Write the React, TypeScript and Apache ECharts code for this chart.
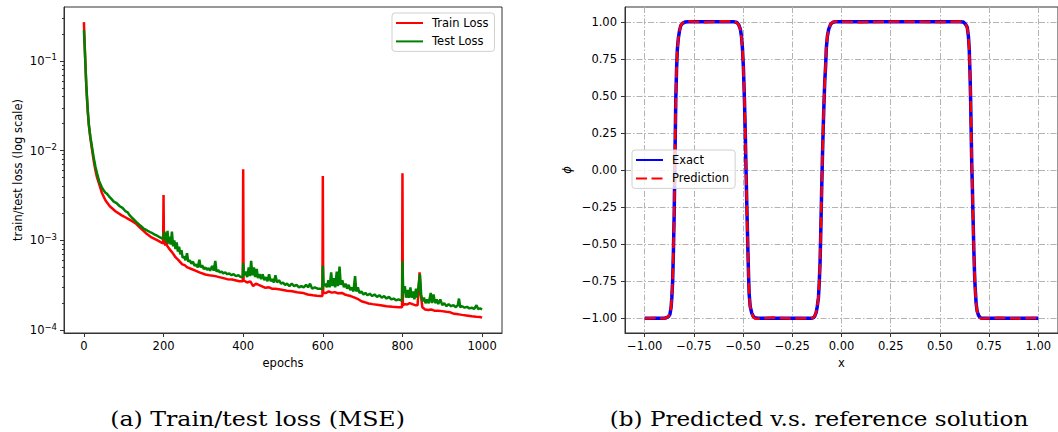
import React, { useEffect, useRef } from "react";
import * as echarts from "echarts";

// ---------- Data: (a) train / test loss, [epoch, loss] ----------
const trainLossPoints: [number, number][] = [
  [0, 0.27], [2, 0.15], [4, 0.085], [6, 0.052], [8, 0.036], [10, 0.026], [12.5, 0.019], [16, 0.014],
  [21, 0.0098], [25, 0.0075], [29, 0.006], [33, 0.005], [38, 0.0043], [45, 0.0034], [54, 0.0028],
  [65, 0.0024], [80, 0.0021], [95, 0.0019], [105, 0.0018], [110, 0.00175], [120, 0.00165],
  [130, 0.00155], [140, 0.0014], [155, 0.00121], [170, 0.00108], [185, 0.001], [196, 0.00094],
  [199, 0.00093], [200, 0.0032], [201, 0.00095], [205, 0.00088], [207, 0.0012], [209, 0.00087],
  [213, 0.00082], [220, 0.00075], [225, 0.0007], [230, 0.00065], [238, 0.0006], [247, 0.00054],
  [253, 0.00053], [260, 0.0005], [270, 0.00048], [280, 0.00046], [290, 0.00044], [305, 0.000417],
  [315, 0.00041], [330, 0.0004], [340, 0.00039], [350, 0.00038], [360, 0.00037], [372, 0.000366],
  [380, 0.00036], [390, 0.00035], [399, 0.00035], [400, 0.0062], [401, 0.00036], [405, 0.00035],
  [410, 0.00034], [418, 0.00035], [425, 0.00031], [432, 0.00033], [439, 0.00032], [446, 0.00031],
  [456, 0.000296], [465, 0.0003], [472, 0.00029], [480, 0.00029], [490, 0.000285], [500, 0.00028],
  [510, 0.000275], [523, 0.000272], [535, 0.000265], [550, 0.00026], [562, 0.00025], [575, 0.000245],
  [585, 0.000242], [594, 0.00024], [599, 0.00024], [600, 0.0052], [601, 0.00026], [608, 0.00026],
  [615, 0.00027], [622, 0.000262], [630, 0.000265], [638, 0.000258], [648, 0.00026], [655, 0.00025],
  [662, 0.000245], [670, 0.00024], [680, 0.00023], [690, 0.00022], [697, 0.00021], [705, 0.000205],
  [715, 0.000198], [725, 0.000195], [732, 0.000193], [745, 0.00019], [760, 0.000185], [775, 0.000182],
  [790, 0.00018], [799, 0.00018], [800, 0.0056], [801, 0.00019], [806, 0.000195], [812, 0.000193],
  [818, 0.0002], [825, 0.000195], [832, 0.00019], [838, 0.00019], [841, 0.0003], [843, 0.00044],
  [846, 0.00025], [850, 0.00018], [857, 0.00017], [865, 0.000168], [872, 0.00017], [880, 0.000165],
  [890, 0.000165], [899, 0.000163], [910, 0.00016], [920, 0.000158], [930, 0.000152], [941, 0.00015],
  [950, 0.000148], [960, 0.000146], [974, 0.000143], [985, 0.000141], [995, 0.00014], [1000, 0.000138],
];
const testLossPoints: [number, number][] = [
  [0, 0.22], [2, 0.14], [4, 0.088], [6, 0.054], [8, 0.038], [10, 0.027], [12.5, 0.0195], [16, 0.0145],
  [21, 0.0105], [25, 0.0082], [29, 0.0066], [33, 0.0056], [38, 0.0046], [42, 0.0042], [45, 0.0039],
  [50, 0.0036], [54, 0.0034], [58, 0.0033], [63, 0.0031], [69, 0.0029], [75, 0.0027], [82, 0.0026],
  [90, 0.0024], [97, 0.0023], [105, 0.0021], [110, 0.00205], [115, 0.0019], [120, 0.0018],
  [125, 0.00172], [132, 0.0016], [139, 0.0015], [145, 0.00142], [150, 0.00135], [155, 0.00132],
  [160, 0.00128], [166, 0.00124], [171, 0.00121], [178, 0.00116], [185, 0.00112], [191, 0.00108],
  [197, 0.00105], [200, 0.00108], [202, 0.00125], [204, 0.001], [206, 0.00122], [208, 0.00095],
  [210, 0.00128], [212, 0.00092], [215, 0.0011], [218, 0.0009], [221, 0.00125], [224, 0.00086],
  [227, 0.001], [230, 0.0008], [233, 0.00095], [236, 0.00075], [239, 0.00085], [242, 0.0007],
  [245, 0.00078], [248, 0.00064], [252, 0.00066], [255, 0.0006], [259, 0.00072], [262, 0.00058],
  [266, 0.0006], [270, 0.00055], [274, 0.00058], [278, 0.00052], [282, 0.00054], [286, 0.0005],
  [290, 0.00061], [293, 0.0005], [297, 0.00053], [301, 0.00048], [305, 0.0005], [309, 0.00047],
  [313, 0.00049], [317, 0.00046], [322, 0.00052], [326, 0.00046], [330, 0.00059], [333, 0.00045],
  [337, 0.00047], [341, 0.00044], [346, 0.00045], [350, 0.00043], [355, 0.00044], [360, 0.00042],
  [365, 0.00043], [370, 0.00041], [376, 0.00042], [382, 0.0004], [388, 0.00041], [394, 0.00039],
  [399, 0.00039], [400, 0.00056], [402, 0.00041], [406, 0.00045], [410, 0.00039], [414, 0.0005],
  [417, 0.0004], [420, 0.00059], [423, 0.00041], [427, 0.0005], [430, 0.00039], [434, 0.00048],
  [437, 0.00038], [441, 0.00042], [445, 0.00037], [449, 0.00042], [453, 0.00036], [457, 0.00039],
  [461, 0.00035], [465, 0.00042], [469, 0.00035], [473, 0.00037], [477, 0.00034], [481, 0.00041],
  [485, 0.00034], [490, 0.00036], [495, 0.00033], [500, 0.00034], [505, 0.00032], [510, 0.00033],
  [516, 0.00031], [522, 0.00033], [528, 0.00031], [534, 0.00032], [540, 0.0003], [546, 0.00031],
  [552, 0.0003], [558, 0.00032], [563, 0.0003], [568, 0.00033], [573, 0.00029], [580, 0.0003],
  [587, 0.00029], [594, 0.00029], [599, 0.000285], [600, 0.00052], [602, 0.00031], [606, 0.00033],
  [610, 0.0003], [614, 0.00036], [617, 0.0003], [621, 0.00044], [624, 0.00031], [628, 0.00038],
  [631, 0.0003], [635, 0.00045], [638, 0.00031], [642, 0.00051], [645, 0.00032], [649, 0.00036],
  [653, 0.0003], [657, 0.00033], [661, 0.00029], [665, 0.00032], [669, 0.00028], [673, 0.0003],
  [677, 0.00027], [681, 0.0004], [684, 0.00027], [688, 0.0003], [692, 0.00026], [697, 0.00027],
  [702, 0.00025], [707, 0.00026], [712, 0.000245], [718, 0.000255], [724, 0.00024], [730, 0.00025],
  [736, 0.000235], [742, 0.000245], [748, 0.00023], [754, 0.00024], [760, 0.000225], [766, 0.000235],
  [772, 0.00022], [778, 0.000225], [784, 0.000215], [790, 0.00022], [796, 0.000215], [799, 0.000215],
  [800, 0.00059], [802, 0.00026], [806, 0.00031], [809, 0.00023], [813, 0.00028], [816, 0.00023],
  [820, 0.0003], [823, 0.00023], [827, 0.00027], [830, 0.00022], [834, 0.00029], [837, 0.00023],
  [841, 0.00033], [844, 0.00042], [847, 0.00025], [850, 0.00021], [854, 0.00023], [858, 0.0002],
  [862, 0.00022], [866, 0.0002], [871, 0.00026], [874, 0.0002], [878, 0.00025], [882, 0.0002],
  [886, 0.00022], [890, 0.000195], [895, 0.00022], [900, 0.00019], [905, 0.0002], [910, 0.000185],
  [916, 0.000195], [922, 0.000185], [928, 0.00019], [934, 0.00018], [939, 0.00019], [942, 0.000225],
  [945, 0.00018], [950, 0.000185], [956, 0.000178], [962, 0.000182], [968, 0.000175], [974, 0.000178],
  [980, 0.000172], [986, 0.00019], [990, 0.000172], [995, 0.000175], [1000, 0.00017],
];
const epochTicks = [0, 200, 400, 600, 800, 1000];
const lossMajorTicks = [1e-4, 1e-3, 1e-2, 1e-1];
const lossMinorTicks = [
  2e-4, 3e-4, 4e-4, 5e-4, 6e-4, 7e-4, 8e-4, 9e-4,
  2e-3, 3e-3, 4e-3, 5e-3, 6e-3, 7e-3, 8e-3, 9e-3,
  2e-2, 3e-2, 4e-2, 5e-2, 6e-2, 7e-2, 8e-2, 9e-2,
  2e-1, 3e-1,
];

// ---------- Data: (b) exact vs prediction ----------
const phiX = [
  -1.0, -0.95, -0.9, -0.89, -0.88, -0.872, -0.866, -0.862, -0.858, -0.854,
  -0.85, -0.846, -0.842, -0.838, -0.834, -0.829, -0.823, -0.817, -0.808, -0.795,
  -0.78, -0.7, -0.6, -0.545, -0.531, -0.522, -0.514, -0.508, -0.503, -0.498,
  -0.493, -0.489, -0.485, -0.481, -0.476, -0.472, -0.469, -0.464, -0.456, -0.448,
  -0.44, -0.425, -0.35, -0.25, -0.15, -0.145, -0.137, -0.129, -0.123, -0.117,
  -0.113, -0.109, -0.105, -0.101, -0.097, -0.093, -0.089, -0.085, -0.08, -0.0775,
  -0.072, -0.065, -0.055, -0.044, -0.03, 0.1, 0.3, 0.5, 0.6, 0.619,
  0.63, 0.639, 0.645, 0.649, 0.653, 0.656, 0.659, 0.662, 0.665, 0.668,
  0.672, 0.676, 0.679, 0.684, 0.689, 0.696, 0.703, 0.711, 0.8, 0.9,
  1.0,
];
const exactPhi = [
  -1, -1, -1, -0.997, -0.99, -0.975, -0.93, -0.86, -0.75, -0.55,
  -0.29, 0.1, 0.47, 0.68, 0.815, 0.89, 0.94, 0.973, 0.99, 0.998,
  1, 1, 1, 1, 0.995, 0.98, 0.951, 0.9, 0.815, 0.68,
  0.47, 0.26, 0.0, -0.24, -0.52, -0.72, -0.84, -0.92, -0.965, -0.988,
  -0.997, -1, -1, -1, -1, -0.998, -0.99, -0.963, -0.92, -0.86,
  -0.76, -0.63, -0.4, -0.15, 0.08, 0.28, 0.45, 0.6, 0.72, 0.815,
  0.9, 0.951, 0.985, 0.997, 1, 1, 1, 1, 1, 0.998,
  0.985, 0.963, 0.9, 0.815, 0.65, 0.48, 0.25, 0.03, -0.12, -0.3,
  -0.52, -0.7, -0.79, -0.9, -0.951, -0.98, -0.994, -1, -1, -1,
  -1,
];
const predPhi = [
  -1.002, -0.998, -1.003, -0.996, -0.988, -0.972, -0.925, -0.855, -0.745, -0.545,
  -0.285, 0.105, 0.472, 0.682, 0.812, 0.888, 0.942, 0.975, 0.992, 1.003,
  1.004, 0.997, 1.003, 1.001, 0.993, 0.978, 0.948, 0.897, 0.812, 0.676,
  0.466, 0.255, -0.004, -0.245, -0.524, -0.722, -0.842, -0.922, -0.968, -0.992,
  -1.003, -1.004, -0.996, -1.003, -0.999, -0.996, -0.987, -0.96, -0.917, -0.857,
  -0.757, -0.626, -0.396, -0.146, 0.084, 0.284, 0.453, 0.603, 0.722, 0.816,
  0.902, 0.953, 0.987, 0.999, 1.002, 0.997, 1.003, 0.998, 1.002, 0.996,
  0.983, 0.96, 0.897, 0.812, 0.646, 0.476, 0.246, 0.026, -0.124, -0.304,
  -0.523, -0.702, -0.792, -0.902, -0.954, -0.984, -0.998, -1.003, -0.997, -1.002,
  -0.999,
];
const phiTicks = [-1, -0.75, -0.5, -0.25, 0, 0.25, 0.5, 0.75, 1];

const captionA = "(a) Train/test loss (MSE)";
const captionB = "(b) Predicted v.s. reference solution";

const FONT = "DejaVu Sans";
const TXT = "#000";
const SPINE = "#333";

const fmtSigned = (v: number) => {
  const r = Math.round(v * 100) / 100;
  const s = Math.abs(r).toFixed(2);
  return r < 0 ? "\u2212" + s : s;
};

const zip = (a: number[], b: number[]) => a.map((v, i) => [v, b[i]]);

export default function App() {
  const ref = useRef<HTMLDivElement>(null);
  useEffect(() => {
    if (!ref.current) return;
    const chart = echarts.init(ref.current, null, { renderer: "svg" });
    const axisLine = { show: true, onZero: false, lineStyle: { color: SPINE, width: 1 } };
    const labelBase = { color: TXT, fontFamily: FONT, fontSize: 11.5 };
    const dashDot = { color: "#b3b3b3", width: 1, type: [6, 2, 1.5, 2] };
    const legendBase = {
      orient: "vertical",
      itemWidth: 27,
      itemHeight: 12,
      itemGap: 6.4,
      padding: [4, 6, 4, 3],
      backgroundColor: "rgba(255,255,255,0.8)",
      borderColor: "#d0d0d0",
      borderWidth: 1,
      borderRadius: 3,
      itemStyle: { opacity: 0 },
      textStyle: { ...labelBase, padding: [0, 0, 0, 4] },
    };
    chart.setOption({
      animation: false,
      backgroundColor: "#fff",
      grid: [
        { left: 64, top: 7, width: 438, height: 326, show: true, borderColor: SPINE, borderWidth: 1, backgroundColor: "transparent" },
        { left: 625, top: 7, width: 437.6, height: 326, show: true, borderColor: SPINE, borderWidth: 1, backgroundColor: "transparent" },
      ],
      legend: [
        { ...legendBase, left: 392, top: 13, data: ["Train Loss", "Test Loss"] },
        { ...legendBase, left: 632, top: 150, data: ["Exact", "Prediction"] },
      ],
      xAxis: [
        {
          gridIndex: 0,
          type: "value",
          min: -50,
          max: 1050,
          name: "epochs",
          nameLocation: "middle",
          nameGap: 24,
          nameTextStyle: labelBase,
          axisLine,
          axisTick: { show: true, length: 4, customValues: epochTicks, lineStyle: { color: SPINE } },
          axisLabel: { ...labelBase, margin: 7, customValues: epochTicks, formatter: (v: number) => String(v) },
          splitLine: { show: false },
        },
        {
          gridIndex: 1,
          type: "value",
          min: -1.1,
          max: 1.1,
          name: "x",
          nameLocation: "middle",
          nameGap: 24,
          nameTextStyle: labelBase,
          axisLine,
          axisTick: { show: true, length: 4, customValues: phiTicks, lineStyle: { color: SPINE } },
          axisLabel: { ...labelBase, margin: 7, customValues: phiTicks, formatter: fmtSigned },
          splitLine: { show: true, lineStyle: dashDot },
        },
      ],
      yAxis: [
        {
          gridIndex: 0,
          type: "log",
          logBase: 10,
          min: 9.3e-5,
          max: 0.398,
          position: "left",
          name: "train/test loss (log scale)",
          nameLocation: "middle",
          nameGap: 40,
          nameTextStyle: labelBase,
          axisLine,
          axisTick: { show: true, length: 4, customValues: lossMajorTicks, lineStyle: { color: SPINE } },
          axisLabel: {
            ...labelBase,
            margin: 7,
            customValues: lossMajorTicks,
            formatter: (v: number) => `10{sup|\u2212${Math.round(-Math.log10(v))}}`,
            rich: { sup: { fontFamily: FONT, fontSize: 8.5, color: TXT, padding: [0, 0, 7, 0] } },
          },
          splitLine: { show: false },
        },
        {
          gridIndex: 0,
          type: "log",
          logBase: 10,
          min: 9.3e-5,
          max: 0.398,
          position: "left",
          axisLine: { show: false, onZero: false },
          axisTick: { show: true, length: 2, customValues: lossMinorTicks, lineStyle: { color: SPINE } },
          axisLabel: { show: false },
          splitLine: { show: false },
        },
        {
          gridIndex: 1,
          type: "value",
          min: -1.1,
          max: 1.1,
          name: "\u03D5",
          nameLocation: "middle",
          nameGap: 52,
          nameTextStyle: { ...labelBase, fontStyle: "italic" },
          axisLine,
          axisTick: { show: true, length: 4, customValues: phiTicks, lineStyle: { color: SPINE } },
          axisLabel: { ...labelBase, margin: 8, customValues: phiTicks, formatter: fmtSigned },
          splitLine: { show: true, lineStyle: dashDot },
        },
      ],
      series: [
        {
          name: "Train Loss",
          type: "line",
          xAxisIndex: 0,
          yAxisIndex: 0,
          data: trainLossPoints,
          symbol: "none",
          lineStyle: { color: "#ff0000", width: 2.5 },
          itemStyle: { color: "#ff0000" },
        },
        {
          name: "Test Loss",
          type: "line",
          xAxisIndex: 0,
          yAxisIndex: 0,
          data: testLossPoints,
          symbol: "none",
          lineStyle: { color: "#008000", width: 2.5 },
          itemStyle: { color: "#008000" },
        },
        {
          name: "Exact",
          type: "line",
          xAxisIndex: 1,
          yAxisIndex: 2,
          data: zip(phiX, exactPhi),
          symbol: "none",
          lineStyle: { color: "#0000ff", width: 3.5 },
          itemStyle: { color: "#0000ff" },
        },
        {
          name: "Prediction",
          type: "line",
          xAxisIndex: 1,
          yAxisIndex: 2,
          data: zip(phiX, predPhi),
          symbol: "none",
          lineStyle: { color: "#ff0000", width: 2.5, type: [11, 4.5] },
          itemStyle: { color: "#ff0000" },
        },
      ],
      graphic: [
        {
          type: "text",
          x: 257.5,
          y: 419,
          scaleX: 1.185,
          style: { text: captionA, fontFamily: "DejaVu Serif", fontSize: 20, fill: "#000", align: "center", verticalAlign: "middle" },
        },
        {
          type: "text",
          x: 819,
          y: 419,
          scaleX: 1.155,
          style: { text: captionB, fontFamily: "DejaVu Serif", fontSize: 20, fill: "#000", align: "center", verticalAlign: "middle" },
        },
      ],
    });
    return () => chart.dispose();
  }, []);
  return (
    <div
      ref={ref}
      style={{ position: "fixed", left: 0, top: 0, width: 1058, height: 432, background: "#fff" }}
    />
  );
}
